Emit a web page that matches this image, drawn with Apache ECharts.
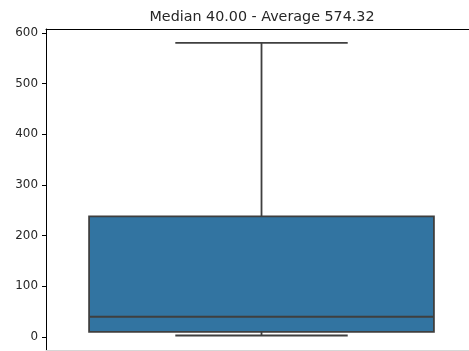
<!DOCTYPE html>
<html>
<head>
<meta charset="utf-8">
<script src="https://cdn.jsdelivr.net/npm/echarts@6/dist/echarts.min.js"></script>
<style>
  html, body { margin: 0; padding: 0; background: #fff; }
  #chart { width: 469px; height: 351px; }
</style>
</head>
<body>
<div id="chart"></div>
<script>
// Box summary of the values
const categories = ['value'];
const whiskerLow = [3];
const q1 = [10];
const median = [40];
const q3 = [238];
const whiskerHigh = [580];
const average = 574.32;
const yTicks = [0, 100, 200, 300, 400, 500, 600];

// position index of each box on the x axis
const boxData = categories.map((c, i) => [i, whiskerLow[i], q1[i], median[i], q3[i], whiskerHigh[i]]);

const edge = '#3f3f3f';
const fill = '#3274a1';
const lw = 1.8;
const boxWidth = 0.8;   // in category units
const capWidth = 0.4;

const chart = echarts.init(document.getElementById('chart'), null, { renderer: 'canvas' });

chart.setOption({
  animation: false,
  graphic: [{
    type: 'text',
    x: 262,
    y: 17,
    style: {
      text: 'Median ' + median[0].toFixed(2) + ' - Average ' + average.toFixed(2),
      align: 'center',
      verticalAlign: 'middle',
      font: '14.3px "DejaVu Sans"',
      fill: '#262626'
    }
  }],
  grid: { left: 46, right: 0, top: 29, bottom: 1 },
  xAxis: [
    {
      type: 'value',
      min: -0.5,
      max: 0.4814,   // right edge of the axes falls just past the page edge
      position: 'bottom',
      axisLine: { show: true, onZero: false, lineStyle: { color: '#d6d6d6', width: 1 } },
      axisTick: { show: false },
      axisLabel: { show: false },
      splitLine: { show: false }
    },
    {
      type: 'value',
      min: -0.5,
      max: 0.4814,
      position: 'top',
      axisLine: { show: true, onZero: false, lineStyle: { color: '#000', width: 1 } },
      axisTick: { show: false },
      axisLabel: { show: false },
      splitLine: { show: false }
    }
  ],
  yAxis: {
    type: 'value',
    min: -25.6,
    max: 607.5,
    axisLine: { show: true, onZero: false, lineStyle: { color: '#000', width: 1 } },
    axisTick: { show: true, length: 4, customValues: yTicks, lineStyle: { color: '#000' } },
    axisLabel: {
      customValues: yTicks,
      margin: 8,
      fontFamily: 'DejaVu Sans',
      fontSize: 11.9,
      color: '#262626'
    },
    splitLine: { show: false }
  },
  series: [{
    type: 'custom',
    data: boxData,
    encode: { x: 0, y: [1, 2, 3, 4, 5] },
    renderItem: function (params, api) {
      const x = api.value(0);
      const left = api.coord([x - boxWidth / 2, 0])[0];
      const right = api.coord([x + boxWidth / 2, 0])[0];
      const capL = api.coord([x - capWidth / 2, 0])[0];
      const capR = api.coord([x + capWidth / 2, 0])[0];
      const pLow = api.coord([x, api.value(1)]);
      const pQ1 = api.coord([x, api.value(2)]);
      const pMed = api.coord([x, api.value(3)]);
      const pQ3 = api.coord([x, api.value(4)]);
      const pHigh = api.coord([x, api.value(5)]);
      const cx = pQ1[0];
      const line = (x1, y1, x2, y2) => ({
        type: 'line',
        shape: { x1: x1, y1: y1, x2: x2, y2: y2 },
        style: { stroke: edge, lineWidth: lw }
      });
      return {
        type: 'group',
        children: [
          line(cx, pQ3[1], cx, pHigh[1]),
          line(cx, pQ1[1], cx, pLow[1]),
          line(capL, pHigh[1], capR, pHigh[1]),
          line(capL, pLow[1], capR, pLow[1]),
          {
            type: 'rect',
            shape: { x: left, y: pQ3[1], width: right - left, height: pQ1[1] - pQ3[1] },
            style: { fill: fill, stroke: edge, lineWidth: lw }
          },
          line(left, pMed[1], right, pMed[1])
        ]
      };
    }
  }]
});
</script>
</body>
</html>
